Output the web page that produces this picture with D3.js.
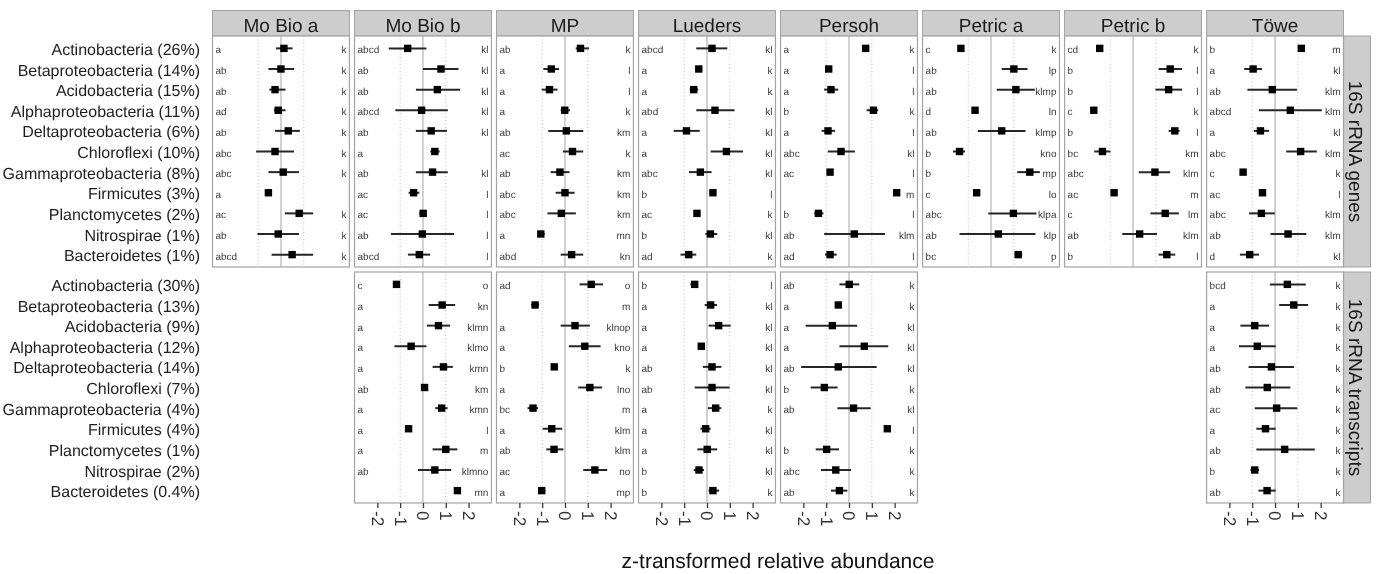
<!DOCTYPE html>
<html>
<head>
<meta charset="utf-8">
<script src="https://cdn.jsdelivr.net/npm/d3@7"></script>
<style>
  body { margin: 0; background: #fff; }
  svg { display: block; font-family: "Liberation Sans", Arial, sans-serif; will-change: transform; }
  svg text { text-rendering: geometricPrecision; }
</style>
</head>
<body>
<svg id="chart" width="1379" height="574"></svg>
<script>
// ---- data -------------------------------------------------------------
const studies = ["Mo Bio a", "Mo Bio b", "MP", "Lueders", "Persoh", "Petric a", "Petric b", "Töwe"];
const taxa = ["Actinobacteria", "Betaproteobacteria", "Acidobacteria", "Alphaproteobacteria",
  "Deltaproteobacteria", "Chloroflexi", "Gammaproteobacteria", "Firmicutes",
  "Planctomycetes", "Nitrospirae", "Bacteroidetes"];
const genesShare = ["26%", "14%", "15%", "11%", "6%", "10%", "8%", "3%", "2%", "1%", "1%"];
const transcriptsShare = ["30%", "13%", "9%", "12%", "14%", "7%", "4%", "4%", "1%", "2%", "0.4%"];
const templates = ["16S rRNA genes", "16S rRNA transcripts"];
const xTicks = [-2, -1, 0, 1, 2];
const dottedRefs = [-1, 1];
const xTitle = "z-transformed relative abundance";

// each row: [mean z-score, lower bound, upper bound, method letters, taxon letters]
const genesMoBioA = [
  [0.13, -0.22, 0.51, "a", "k"],
  [0.00, -0.55, 0.58, "ab", "k"],
  [-0.26, -0.51, 0.20, "ab", "k"],
  [-0.12, -0.31, 0.20, "ad", "k"],
  [0.32, -0.26, 0.83, "ab", "k"],
  [-0.26, -1.09, 0.57, "abc", "k"],
  [0.10, -0.55, 0.79, "abc", "k"],
  [-0.55, -0.62, -0.48, "a", ""],
  [0.80, 0.17, 1.41, "ac", "k"],
  [-0.12, -1.03, 0.79, "ab", "k"],
  [0.49, -0.41, 1.41, "abcd", "k"]
];
const genesMoBioB = [
  [-0.67, -1.50, 0.15, "abcd", "kl"],
  [0.79, 0.00, 1.56, "ab", "kl"],
  [0.63, -0.31, 1.63, "ab", "kl"],
  [-0.06, -1.21, 1.09, "abcd", "kl"],
  [0.36, -0.31, 1.05, "ab", "kl"],
  [0.52, 0.32, 0.73, "a", ""],
  [0.42, -0.31, 1.09, "ab", "kl"],
  [-0.41, -0.63, -0.16, "ac", "l"],
  [0.01, -0.16, 0.15, "ac", "l"],
  [-0.03, -1.40, 1.37, "ab", "l"],
  [-0.16, -0.66, 0.32, "abcd", "l"]
];
const genesMP = [
  [0.68, 0.47, 1.05, "ab", "k"],
  [-0.60, -0.95, -0.26, "a", "l"],
  [-0.68, -1.02, -0.33, "a", "l"],
  [-0.01, -0.19, 0.22, "a", "k"],
  [0.06, -0.73, 0.80, "ab", "km"],
  [0.33, -0.09, 0.80, "ac", "k"],
  [-0.22, -0.63, 0.20, "ab", "km"],
  [0.00, -0.41, 0.42, "abc", "km"],
  [-0.16, -0.77, 0.48, "abc", "km"],
  [-1.06, -1.18, -0.89, "a", "mn"],
  [0.29, -0.19, 0.80, "abd", "kn"]
];
const genesLueders = [
  [0.22, -0.47, 0.89, "abcd", "kl"],
  [-0.36, -0.44, -0.28, "a", "k"],
  [-0.58, -0.76, -0.39, "a", "k"],
  [0.35, -0.47, 1.21, "abd", "kl"],
  [-0.90, -1.46, -0.32, "a", "kl"],
  [0.85, 0.16, 1.58, "a", "kl"],
  [-0.29, -0.79, 0.20, "abc", "kl"],
  [0.26, 0.18, 0.34, "b", "l"],
  [-0.44, -0.58, -0.29, "ac", "k"],
  [0.15, -0.07, 0.45, "b", "kl"],
  [-0.80, -1.16, -0.47, "ad", "k"]
];
const genesPersoh = [
  [0.73, 0.65, 0.81, "a", "k"],
  [-0.89, -0.99, -0.79, "a", "l"],
  [-0.79, -1.09, -0.47, "a", "l"],
  [1.07, 0.77, 1.28, "b", "k"],
  [-0.92, -1.20, -0.61, "a", "l"],
  [-0.35, -0.93, 0.26, "abc", "kl"],
  [-0.83, -0.91, -0.75, "ac", "l"],
  [2.09, 2.01, 2.17, "", "m"],
  [-1.34, -1.53, -1.12, "b", "l"],
  [0.23, -1.09, 1.58, "ab", "klm"],
  [-0.83, -1.05, -0.54, "ad", "l"]
];
const genesPetricA = [
  [-1.32, -1.40, -1.24, "c", "k"],
  [1.00, 0.47, 1.60, "ab", "lp"],
  [1.09, 0.25, 1.92, "ab", "klmp"],
  [-0.70, -0.78, -0.62, "d", "ln"],
  [0.47, -0.58, 1.51, "ab", "klmp"],
  [-1.38, -1.67, -1.14, "b", "kno"],
  [1.70, 1.15, 2.14, "b", "mp"],
  [-0.63, -0.71, -0.55, "c", "lo"],
  [0.98, -0.12, 1.99, "abc", "klpa"],
  [0.32, -1.38, 1.95, "ab", "klp"],
  [1.19, 1.05, 1.37, "bc", "p"]
];
const genesPetricB = [
  [-1.46, -1.54, -1.38, "cd", "k"],
  [1.63, 1.12, 2.15, "b", "l"],
  [1.56, 0.98, 2.15, "b", "l"],
  [-1.72, -1.80, -1.64, "c", "k"],
  [1.83, 1.56, 2.04, "b", "l"],
  [-1.34, -1.70, -0.99, "bc", "km"],
  [0.96, 0.25, 1.63, "abc", "klm"],
  [-0.83, -0.91, -0.75, "ac", "m"],
  [1.41, 0.76, 2.01, "c", "lm"],
  [0.29, -0.47, 1.05, "ab", "klm"],
  [1.48, 1.12, 1.85, "b", "l"]
];
const genesTowe = [
  [1.15, 1.07, 1.23, "b", "m"],
  [-0.96, -1.35, -0.57, "a", "kl"],
  [-0.12, -1.21, 0.96, "ab", "klm"],
  [0.67, -0.71, 2.05, "abcd", "klm"],
  [-0.64, -0.93, -0.26, "a", "kl"],
  [1.12, 0.49, 1.83, "abc", "klm"],
  [-1.40, -1.48, -1.32, "c", "k"],
  [-0.55, -0.63, -0.47, "ac", "l"],
  [-0.60, -1.14, -0.01, "abc", "klm"],
  [0.57, -0.20, 1.37, "ab", "klm"],
  [-1.11, -1.54, -0.70, "d", "kl"]
];
const transcriptsMoBioB = [
  [-1.16, -1.24, -1.08, "c", "o"],
  [0.84, 0.25, 1.41, "a", "kn"],
  [0.68, 0.17, 1.19, "a", "klmn"],
  [-0.52, -1.25, 0.15, "a", "klmo"],
  [0.90, 0.42, 1.31, "a", "kmn"],
  [0.07, -0.01, 0.15, "ab", "km"],
  [0.82, 0.54, 1.08, "a", "kmn"],
  [-0.63, -0.71, -0.55, "a", "l"],
  [1.00, 0.42, 1.51, "a", "m"],
  [0.52, -0.22, 1.24, "ab", "klmno"],
  [1.51, 1.43, 1.59, "", "mn"]
];
const transcriptsMP = [
  [1.15, 0.64, 1.67, "ad", "o"],
  [-1.31, -1.47, -1.14, "", "m"],
  [0.44, -0.19, 1.09, "a", "klnop"],
  [0.87, 0.17, 1.56, "a", "kno"],
  [-0.47, -0.55, -0.39, "b", "k"],
  [1.09, 0.58, 1.63, "a", "lno"],
  [-1.40, -1.64, -1.18, "bc", "m"],
  [-0.58, -0.98, -0.12, "a", "klm"],
  [-0.48, -0.82, -0.07, "ab", "klm"],
  [1.31, 0.80, 1.85, "ac", "no"],
  [-1.02, -1.16, -0.86, "a", "mp"]
];
const transcriptsLueders = [
  [-0.54, -0.73, -0.39, "b", "l"],
  [0.16, -0.10, 0.44, "a", "kl"],
  [0.51, 0.07, 1.04, "a", "kl"],
  [-0.25, -0.33, -0.17, "a", "kl"],
  [0.22, -0.18, 0.63, "ab", "kl"],
  [0.22, -0.54, 0.99, "ab", "kl"],
  [0.38, 0.04, 0.63, "a", "k"],
  [-0.06, -0.29, 0.16, "a", "kl"],
  [0.01, -0.42, 0.45, "a", "kl"],
  [-0.35, -0.58, -0.13, "b", "kl"],
  [0.26, 0.07, 0.53, "b", "k"]
];
const transcriptsPersoh = [
  [0.01, -0.42, 0.45, "ab", "k"],
  [-0.47, -0.55, -0.39, "a", "k"],
  [-0.73, -1.90, 0.36, "a", "kl"],
  [0.67, -0.42, 1.72, "a", "kl"],
  [-0.47, -2.10, 1.21, "ab", "kl"],
  [-1.08, -1.68, -0.50, "b", "k"],
  [0.20, -0.51, 0.95, "ab", "kl"],
  [1.68, 1.60, 1.76, "", "l"],
  [-0.98, -1.46, -0.44, "b", "k"],
  [-0.58, -1.23, 0.09, "abc", "k"],
  [-0.42, -0.79, -0.07, "ab", "k"]
];
const transcriptsTowe = [
  [0.54, -0.23, 1.35, "bcd", "k"],
  [0.82, 0.18, 1.45, "a", "k"],
  [-0.89, -1.52, -0.26, "a", "k"],
  [-0.78, -1.58, 0.03, "a", "k"],
  [-0.16, -1.16, 0.83, "ab", "k"],
  [-0.34, -1.30, 0.67, "ab", "k"],
  [0.07, -0.89, 0.98, "ac", "k"],
  [-0.42, -0.82, 0.03, "a", "k"],
  [0.42, -0.82, 1.74, "ab", "k"],
  [-0.89, -1.08, -0.70, "b", "k"],
  [-0.35, -0.73, 0.03, "ab", "k"]
];

// which panels exist in the facet grid
const panels = [
  { row: 0, study: "Mo Bio a", rows: genesMoBioA },
  { row: 0, study: "Mo Bio b", rows: genesMoBioB },
  { row: 0, study: "MP", rows: genesMP },
  { row: 0, study: "Lueders", rows: genesLueders },
  { row: 0, study: "Persoh", rows: genesPersoh },
  { row: 0, study: "Petric a", rows: genesPetricA },
  { row: 0, study: "Petric b", rows: genesPetricB },
  { row: 0, study: "Töwe", rows: genesTowe },
  { row: 1, study: "Mo Bio b", rows: transcriptsMoBioB },
  { row: 1, study: "MP", rows: transcriptsMP },
  { row: 1, study: "Lueders", rows: transcriptsLueders },
  { row: 1, study: "Persoh", rows: transcriptsPersoh },
  { row: 1, study: "Töwe", rows: transcriptsTowe }
];
const rowLabels = [
  taxa.map((t, i) => `${t} (${genesShare[i]})`),
  taxa.map((t, i) => `${t} (${transcriptsShare[i]})`)
];

// ---- layout -----------------------------------------------------------
const svg = d3.select("#chart");
const gridLeft = 212.5, gridRight = 1343.5;
const stripTop = 10.5, stripH = 25.5;
const rowTops = [36, 272], panelH = 231;
const rightStripW = 27;

const col = d3.scaleBand().domain(studies).range([gridLeft, gridRight]).paddingInner(0.036);
const pw = col.bandwidth();
const x = d3.scaleLinear().domain([-3, 3]).range([0, pw]);
const yFor = r => d3.scalePoint().domain(taxa).range([rowTops[r], rowTops[r] + panelH]).padding(0.6);

const borderCol = "#a3a3a3";
const stripFill = "#cdcdcd";

// column strips
studies.forEach(s => {
  const g = svg.append("g").attr("transform", `translate(${col(s)},${stripTop})`);
  g.append("rect").attr("width", pw).attr("height", stripH)
    .attr("fill", stripFill).attr("stroke", borderCol).attr("stroke-width", 1);
  g.append("text").attr("x", pw / 2).attr("y", 21).attr("text-anchor", "middle")
    .attr("font-size", 19).attr("fill", "#1a1a1a").text(s);
});

// row strips
templates.forEach((t, r) => {
  const g = svg.append("g").attr("transform", `translate(${gridRight},${rowTops[r]})`);
  g.append("rect").attr("width", rightStripW).attr("height", panelH)
    .attr("fill", stripFill).attr("stroke", borderCol).attr("stroke-width", 1);
  g.append("text").attr("transform", `translate(5,${panelH / 2}) rotate(90)`)
    .attr("text-anchor", "middle").attr("font-size", 19).attr("fill", "#1a1a1a").text(t);
});

// taxon labels on the left
rowLabels.forEach((labels, r) => {
  const y = yFor(r);
  svg.append("g").selectAll("text").data(taxa).join("text")
    .attr("x", 200).attr("y", d => y(d) + 6.5)
    .attr("text-anchor", "end").attr("font-size", 16).attr("fill", "#1e1e1e")
    .text((d, i) => labels[i]);
});

// panels
panels.forEach(p => {
  const y = yFor(p.row);
  const top = rowTops[p.row];
  const g = svg.append("g").attr("transform", `translate(${col(p.study)},0)`);
  g.append("rect").attr("y", top).attr("width", pw).attr("height", panelH).attr("fill", "#fff");

  g.selectAll(".dot-ref").data(dottedRefs).join("line")
    .attr("x1", d => x(d)).attr("x2", d => x(d)).attr("y1", top).attr("y2", top + panelH)
    .attr("stroke", "#bdbdbd").attr("stroke-width", 1).attr("stroke-dasharray", "1,2.5");
  g.append("line").attr("x1", x(0)).attr("x2", x(0)).attr("y1", top).attr("y2", top + panelH)
    .attr("stroke", "#b4b4b4").attr("stroke-width", 1.2);

  const rows = p.rows.map((d, i) => ({ taxon: taxa[i], mean: d[0], lo: d[1], hi: d[2], left: d[3], right: d[4] }));

  g.selectAll(".bar").data(rows).join("line")
    .attr("x1", d => x(d.lo)).attr("x2", d => x(d.hi))
    .attr("y1", d => y(d.taxon)).attr("y2", d => y(d.taxon))
    .attr("stroke", "#262626").attr("stroke-width", 2);
  g.selectAll(".pt").data(rows).join("rect")
    .attr("x", d => x(d.mean) - 3.7).attr("y", d => y(d.taxon) - 3.7)
    .attr("width", 7.4).attr("height", 7.4).attr("fill", "#000");

  g.selectAll(".lt").data(rows).join("text")
    .attr("x", 3).attr("y", d => y(d.taxon) + 5)
    .attr("font-size", 10).attr("fill", "#3a3a3a").text(d => d.left);
  g.selectAll(".rt").data(rows).join("text")
    .attr("x", pw - 3).attr("y", d => y(d.taxon) + 5).attr("text-anchor", "end")
    .attr("font-size", 10).attr("fill", "#3a3a3a").text(d => d.right);

  g.append("rect").attr("y", top).attr("width", pw).attr("height", panelH)
    .attr("fill", "none").attr("stroke", borderCol).attr("stroke-width", 1.2);
});

// bottom axes under the lowest panel of every column that reaches row two
panels.filter(p => p.row === 1).forEach(p => {
  const ax = svg.append("g")
    .attr("transform", `translate(${col(p.study)},${rowTops[1] + panelH})`)
    .call(d3.axisBottom(x).tickValues(xTicks).tickFormat(d => String(d)).tickSize(5).tickSizeOuter(0));
  ax.select(".domain").remove();
  ax.selectAll(".tick line").attr("stroke", "#3c3c3c").attr("stroke-width", 1.3);
  ax.selectAll(".tick text")
    .attr("transform", "rotate(90)").attr("x", 8).attr("y", 0).attr("dy", "0.36em")
    .style("text-anchor", "start").attr("font-size", 17).attr("fill", "#333")
    .attr("font-family", "Liberation Sans, Arial, sans-serif");
});

// axis title
svg.append("text").attr("x", (gridLeft + gridRight) / 2).attr("y", 568)
  .attr("text-anchor", "middle").attr("font-size", 21).attr("fill", "#111").text(xTitle);
</script>
</body>
</html>
